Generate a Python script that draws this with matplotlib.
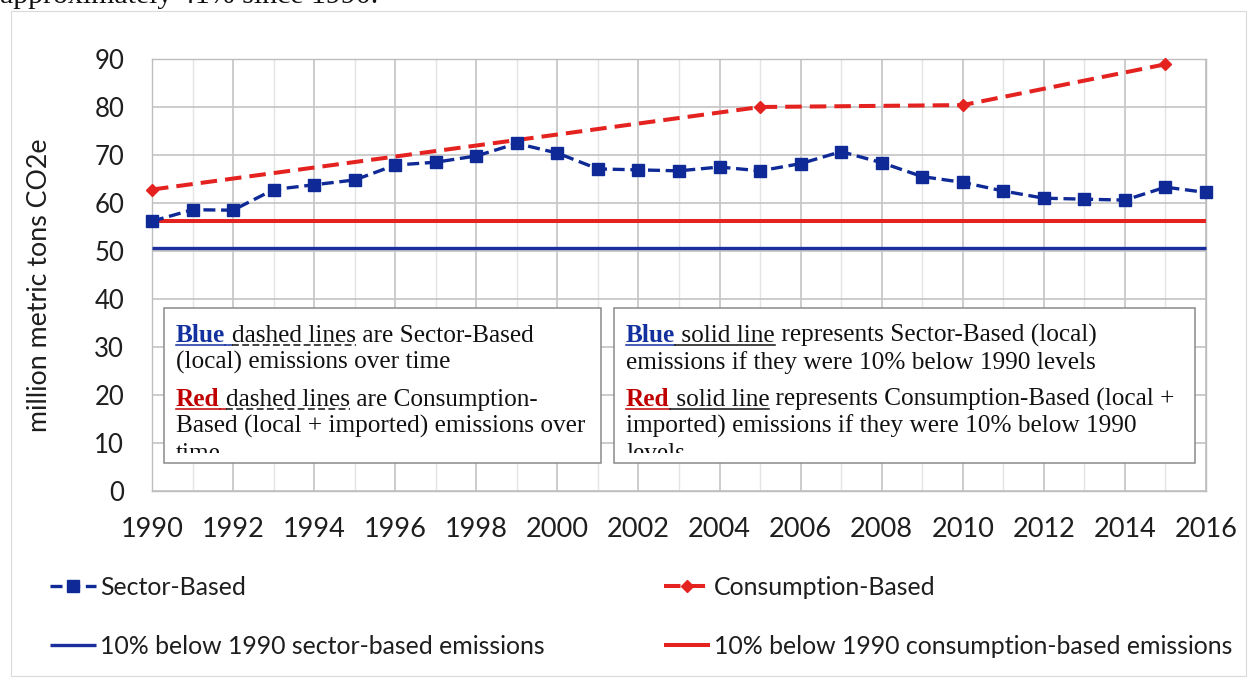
import matplotlib
matplotlib.use("Agg")
import matplotlib.pyplot as plt
from matplotlib.transforms import IdentityTransform
from matplotlib.patches import Rectangle
from matplotlib.lines import Line2D
from matplotlib.ticker import MultipleLocator

# ---------------- data ----------------
years = list(range(1990, 2017))
sector = [56.2, 58.6, 58.5, 62.8, 63.8, 64.8, 67.9, 68.5, 69.8, 72.4, 70.4,
          67.1, 66.9, 66.7, 67.5, 66.7, 68.2, 70.7, 68.4, 65.5, 64.3,
          62.5, 61.0, 60.8, 60.6, 63.3, 62.2]
cons_years = [1990, 2005, 2010, 2015]
consumption = [62.8, 80.0, 80.4, 88.9]
sector_target = 50.6
cons_target = 56.3
y_ticks = [0, 10, 20, 30, 40, 50, 60, 70, 80, 90]
x_ticks = list(range(1990, 2017, 2))
y_label = "million metric tons CO2e"
legend_labels = ["Sector-Based", "10% below 1990 sector-based emissions",
                 "Consumption-Based", "10% below 1990 consumption-based emissions"]
top_text = "approximately 41% since 1990."

W, H = 1248, 679
SANS = ["Lato", "DejaVu Sans"]
SERIF = ["Liberation Serif", "DejaVu Serif"]
BLUE = "#1B2F9C"
BLUE_M = "#0F2A96"
RED = "#E42320"
TXT = "#1E1E1E"

fig = plt.figure(figsize=(W / 100, H / 100), dpi=100)
fig.patch.set_facecolor("white")
ID = IdentityTransform()

# outer faint frame of the screenshot
fig.add_artist(Rectangle((11, 3), W - 13, H - 14, transform=ID, fill=False,
                         edgecolor="#DADADA", lw=0.8, zorder=0))

# top cut-off document text
fig.text(0, H - 3, top_text, transform=ID, fontsize=21.5, family=SERIF,
         color="#111111", va="baseline", ha="left")

L, R, T, B = 152, 1206, 59, 491
ax = fig.add_axes([L / W, 1 - B / H, (R - L) / W, (B - T) / H])
ax.set_xlim(1990, 2016)
ax.set_ylim(0, 90)
ax.set_xticks(x_ticks)
ax.set_yticks(y_ticks)
ax.xaxis.set_minor_locator(MultipleLocator(1))
ax.grid(which="major", color="#C4C4C4", lw=1.2, zorder=0)
ax.grid(which="minor", axis="x", color="#E4E4E4", lw=1.0, zorder=0)
for s in ax.spines.values():
    s.set_color("#BDBDBD")
    s.set_linewidth(1.0)
ax.tick_params(which="both", length=0)
ax.tick_params(axis="y", pad=20, labelsize=18.5, labelcolor=TXT)
ax.tick_params(axis="x", pad=19, labelsize=19.5, labelcolor=TXT)
for lab in ax.get_xticklabels() + ax.get_yticklabels():
    lab.set_family(SANS)

l_st, = ax.plot(years, [sector_target] * len(years), color=BLUE, lw=2.4,
                solid_capstyle="butt", zorder=3, clip_on=False)
l_ct, = ax.plot(years, [cons_target] * len(years), color=RED, lw=2.9,
                solid_capstyle="butt", zorder=3, clip_on=False)
l_c, = ax.plot(cons_years, consumption, color=RED, lw=2.9, ls=(0, (4.1, 2.0)),
               marker="D", ms=6, mfc=RED, mec=RED, zorder=4, clip_on=False)
l_s, = ax.plot(years, sector, color=BLUE_M, lw=2.4, ls=(0, (3.6, 1.7)),
               marker="s", ms=8.5, mfc=BLUE_M, mec=BLUE_M, zorder=5, clip_on=False)

fig.text(40 / W, 1 - 285 / H, y_label, rotation=90, ha="center", va="center",
         fontsize=19.3, family=SANS, color=TXT)

# legends (two columns)
leg_kw = dict(frameon=False, handlelength=1.85, handletextpad=0.15,
              labelspacing=1.45, borderpad=0, borderaxespad=0, loc="upper left",
              prop={"family": SANS, "size": 17.9}, labelcolor=TXT)
fig.legend([l_s, l_st], legend_labels[:2], bbox_to_anchor=(50 / W, 1 - 576 / H), **leg_kw)
fig.legend([l_c, l_ct], legend_labels[2:], bbox_to_anchor=(664 / W, 1 - 576 / H), **leg_kw)

# ---------------- explanation boxes ----------------
renderer = fig.canvas.get_renderer()
FS = 18.2


def advance(txt, weight):
    t1 = fig.text(0, 0, txt + "|", fontsize=FS, family=SERIF, weight=weight)
    t2 = fig.text(0, 0, "|", fontsize=FS, family=SERIF, weight=weight)
    w = t1.get_window_extent(renderer).width - t2.get_window_extent(renderer).width
    t1.remove()
    t2.remove()
    return w


def rich_line(x, y, segs):
    yb = H - y
    cx = x
    for txt, color, weight, ul, ulc in segs:
        fig.text(cx, yb, txt, transform=ID, fontsize=FS, family=SERIF, color=color,
                 weight=weight, va="baseline", ha="left", zorder=3)
        adv = advance(txt, weight)
        if ul:
            ls = "-" if ul == "solid" else (0, (4.5, 2.2))
            fig.add_artist(Line2D([cx, cx + adv], [yb - 3.2, yb - 3.2], transform=ID,
                                  color=ulc, lw=1.1, ls=ls, zorder=3))
        cx += adv


def box(x0, x1, y0, y1, lines, tx):
    fig.add_artist(Rectangle((x0, H - y1), x1 - x0, y1 - y0, transform=ID,
                             facecolor="white", edgecolor="none", zorder=2))
    for yy, segs in zip([342, 369, 406, 433, 460], lines):
        rich_line(tx, yy, segs)
    # clip last line
    fig.add_artist(Rectangle((x0 + 1, H - y1), x1 - x0 - 2, y1 - 453, transform=ID,
                             facecolor="white", edgecolor="none", zorder=4))
    fig.add_artist(Rectangle((x0, H - y1), x1 - x0, y1 - y0, transform=ID,
                             fill=False, edgecolor="#8A8A8A", lw=1.1, zorder=5))


K = "#111111"
BT = "#12309E"
RT = "#C00000"
box1 = [
    [("Blue", BT, "bold", "solid", BT), (" ", K, "normal", "solid", BT),
     ("dashed lines", K, "normal", "dash", K), (" are Sector-Based", K, "normal", None, K)],
    [("(local) emissions over time", K, "normal", None, K)],
    [("Red", RT, "bold", "solid", RT), (" ", K, "normal", "solid", RT),
     ("dashed lines", K, "normal", "dash", K), (" are Consumption-", K, "normal", None, K)],
    [("Based (local + imported) emissions over", K, "normal", None, K)],
    [("time", K, "normal", None, K)],
]
box2 = [
    [("Blue", BT, "bold", "solid", BT), (" solid line", K, "normal", "solid", K),
     (" represents Sector-Based (local)", K, "normal", None, K)],
    [("emissions if they were 10% below 1990 levels", K, "normal", None, K)],
    [("Red", RT, "bold", "solid", RT), (" solid line", K, "normal", "solid", K),
     (" represents Consumption-Based (local +", K, "normal", None, K)],
    [("imported) emissions if they were 10% below 1990", K, "normal", None, K)],
    [("levels", K, "normal", None, K)],
]
box(164, 601, 308, 463, box1, 176)
box(614, 1195, 308, 463, box2, 626)

fig.savefig("out.png", dpi=100, facecolor="white")
